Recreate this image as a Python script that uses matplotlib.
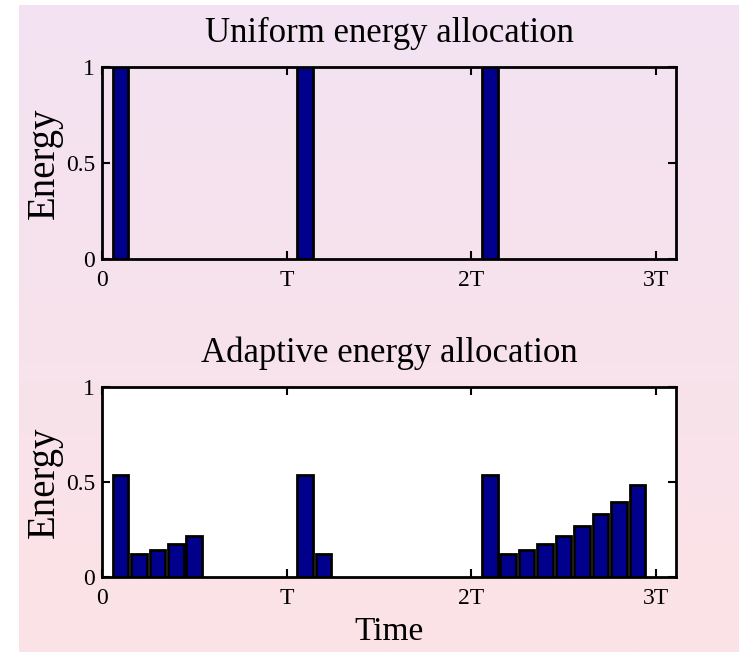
import numpy as np
import matplotlib
matplotlib.use("Agg")
import matplotlib.pyplot as plt
from matplotlib.colors import LinearSegmentedColormap

plt.rcParams['font.family'] = ['Liberation Serif', 'DejaVu Serif']

# time slot positions (in units of T) and the energy in each slot
uniform_times = [0.1, 1.1, 2.1]
uniform_energy = [1.0, 1.0, 1.0]

adaptive_times = [0.1, 0.2, 0.3, 0.4, 0.5,
                  1.1, 1.2,
                  2.1, 2.2, 2.3, 2.4, 2.5, 2.6, 2.7, 2.8, 2.9]
adaptive_energy = [0.54, 0.12, 0.145, 0.175, 0.215,
                   0.54, 0.12,
                   0.54, 0.12, 0.145, 0.175, 0.215, 0.27, 0.33, 0.395, 0.485]

xtick_pos = [0, 1, 2, 3]
xtick_lab = ['0', 'T', '2T', '3T']
ytick_pos = [0, 0.5, 1]
ytick_lab = ['0', '0.5', '1']

fig = plt.figure(figsize=(7.39, 6.52), dpi=100)

# gradient background (lavender at top -> pink at bottom), white margin at top/left
bg = fig.add_axes([19/739, 0, 1 - 19/739, 1 - 5/652], zorder=-10)
cmap = LinearSegmentedColormap.from_list('bg', ['#f3e3f2', '#fce2e6'])
bg.imshow(np.linspace(0, 1, 256).reshape(-1, 1), aspect='auto', cmap=cmap)
bg.axis('off')

bar_color = '#00008c'


def style(ax, title):
    ax.set_xlim(0, 3.11)
    ax.set_ylim(0, 1)
    ax.set_xticks(xtick_pos)
    ax.set_xticklabels(xtick_lab)
    ax.set_yticks(ytick_pos)
    ax.set_yticklabels(ytick_lab)
    ax.tick_params(direction='in', top=True, right=True, length=6, width=1.5,
                   labelsize=17)
    ax.tick_params(axis='x', pad=8)
    ax.tick_params(axis='y', pad=5)
    for s in ax.spines.values():
        s.set_linewidth(2)
    ax.set_ylabel('Energy', fontsize=28, labelpad=2)
    ax.set_title(title, fontsize=25, pad=18)


ax1 = fig.add_axes([0.138, 0.603, 0.777, 0.294])
ax1.set_facecolor('none')
ax1.bar(uniform_times, uniform_energy, width=0.085, color=bar_color,
        edgecolor='black', linewidth=2)
style(ax1, 'Uniform energy allocation')

ax2 = fig.add_axes([0.138, 0.115, 0.777, 0.291])
ax2.set_facecolor('white')
ax2.bar(adaptive_times, adaptive_energy, width=0.085, color=bar_color,
        edgecolor='black', linewidth=2)
style(ax2, 'Adaptive energy allocation')
ax2.set_xlabel('Time', fontsize=24, labelpad=5)

fig.savefig('out.png', dpi=100)
